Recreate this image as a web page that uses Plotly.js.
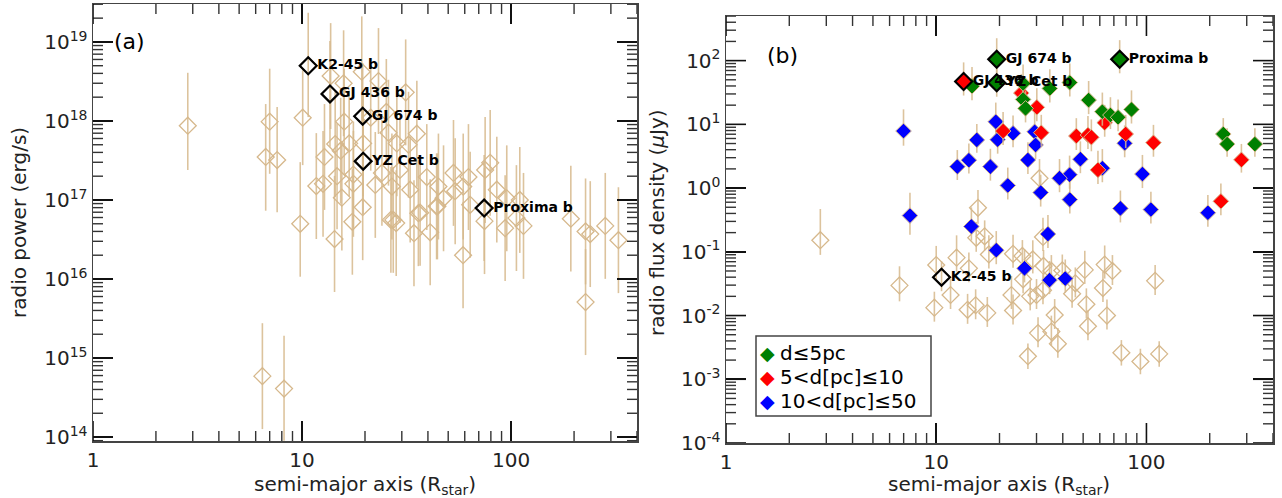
<!DOCTYPE html>
<html><head><meta charset="utf-8">
<script src="https://cdn.plot.ly/plotly-3.0.1.min.js"></script>
<style>html,body{margin:0;padding:0;background:#fff}#chart{width:1282px;height:498px}</style>
</head><body><div id="chart"></div>
<script>
// ---------- Panel (a): radio power vs semi-major axis ----------
const aL = [2.84, 7.0, 6.7, 7.6, 10.07, 9.8, 6.46, 8.2, 14.3, 10.7, 13.6, 19.5, 19.6, 74.3, 23.2, 31.3, 19.3, 13.7, 15.8, 15.9,
  14.4, 15.3, 16.8, 12.8, 19.6, 14.7, 17.6, 11.7, 12.6, 17.6, 15.5, 19.5, 25.9, 35.4, 32.3, 28.4, 24.1, 29.4, 39.5, 53,
  62.5, 79.4, 75.1, 22.4, 26.9, 32.9, 44.9, 54, 85.4, 95.3, 110, 27.3, 36, 44, 47.5, 59, 193, 227, 239, 282,
  326, 227, 58.9, 74.6, 93.6, 114.6, 106, 34.3, 41, 26.6, 28.2, 36.7, 44.4, 63.7, 25.3, 21.3, 17.4];
const pL = [8.7e17, 9.8e17, 3.5e17, 3.2e17, 1.1e18, 5.0e16, 5.9e14, 4.1e14, 3.2e16, 5.0e18, 2.2e18, 1.15e18, 3.1e17, 7.9e16, 3.2e18, 2.3e18, 4.2e18, 3.7e18, 3.0e18, 9.8e17,
  5.1e17, 4.2e17, 5.2e17, 3.5e17, 5.2e17, 2.0e17, 2.1e17, 1.5e17, 1.6e17, 1.6e17, 1.07e17, 8.1e16, 7.1e17, 6.9e17, 5.0e17, 5.2e17, 2.2e17, 2.4e17, 1.95e17, 2.2e17,
  1.95e17, 2.95e17, 2.4e17, 1.55e17, 1.48e17, 1.35e17, 1.48e17, 1.29e17, 1.35e17, 1.05e17, 1.0e17, 5.6e16, 6.8e16, 8.3e16, 1.05e17, 1.48e17, 5.8e16, 4.0e16, 3.7e16, 4.7e16,
  3.1e16, 5.1e15, 2.0e16, 5.4e16, 4.4e16, 4.7e16, 5.9e16, 3.8e16, 3.9e16, 5.6e16, 5.1e16, 6.9e16, 8.3e16, 8.7e16, 1.3e18, 1.1e18, 5.3e16];
// error bar half-lengths in dex (up / down)
const pLerrUp = [0.67, 0.67, 0.67, 0.67, 0.60, 0.78, 0.67, 0.67, 0.80, 0.67, 0.67, 0.67, 0.67, 0.67, 0.67, 0.67, 0.70, 0.67, 0.67, 0.67,
  0.67, 0.67, 0.67, 0.67, 0.67, 0.67, 0.67, 0.67, 0.67, 0.67, 0.67, 0.67, 0.67, 0.67, 0.67, 0.67, 0.67, 0.67, 0.67, 0.67,
  0.67, 0.67, 0.67, 0.67, 0.67, 0.67, 0.67, 0.67, 0.67, 0.67, 0.67, 0.67, 0.67, 0.67, 0.67, 0.67, 0.67, 0.67, 0.67, 0.67,
  0.67, 0.67, 0.67, 0.67, 0.67, 0.67, 0.67, 0.67, 0.67, 0.67, 0.67, 0.67, 0.67, 0.67, 0.67, 0.67, 0.67];
const pLerrDn = [0.56, 0.66, 0.68, 0.66, 0.60, 0.67, 0.67, 0.66, 0.67, 0.65, 0.67, 0.67, 0.67, 0.67, 0.67, 0.67, 0.67, 0.67, 0.67, 0.67,
  0.67, 0.67, 0.67, 0.67, 0.67, 0.67, 0.67, 0.67, 0.67, 0.67, 0.67, 0.67, 0.67, 0.67, 0.67, 0.67, 0.67, 0.67, 0.67, 0.67,
  0.67, 0.67, 0.67, 0.67, 0.67, 0.67, 0.67, 0.67, 0.67, 0.67, 0.67, 0.67, 0.67, 0.67, 0.67, 0.67, 0.67, 0.67, 0.67, 0.67,
  0.67, 0.67, 0.67, 0.67, 0.67, 0.67, 0.67, 0.67, 0.67, 0.67, 0.67, 0.67, 0.67, 0.67, 0.67, 0.67, 0.67];

const hlNames = ['K2-45 b', 'GJ 436 b', 'GJ 674 b', 'YZ Cet b', 'Proxima b'];
const hlA_L = [10.7, 13.6, 19.5, 19.6, 74.3];
const hlP_L = [5.0e18, 2.2e18, 1.15e18, 3.1e17, 7.9e16];

// ---------- Panel (b): radio flux density vs semi-major axis ----------
// d > 50 pc (open)
const aFar = [15.8, 31, 2.81, 15.5, 17, 17.8, 12.5, 10, 14.3, 6.69, 11.7, 9.8, 14.1, 15.4, 17.5, 23.2, 25.7, 28.8, 25.9, 32.2,
  32.4, 35.3, 39.8, 45.9, 44.3, 50.9, 63.3, 68.9, 62.1, 51.8, 64.9, 110, 22.8, 28, 30, 32.2, 23.2, 36.6, 52.7, 30.5,
  35.3, 37.9, 27.3, 76, 93.6, 115, 10.6];
const fFar = [0.49, 1.43, 0.152, 0.166, 0.175, 0.091, 0.081, 0.062, 0.055, 0.0297, 0.021, 0.0133, 0.0123, 0.0145, 0.011, 0.093, 0.086, 0.076, 0.037, 0.171,
  0.060, 0.050, 0.051, 0.032, 0.022, 0.052, 0.063, 0.050, 0.027, 0.015, 0.010, 0.035, 0.021, 0.020, 0.021, 0.025, 0.012, 0.0102, 0.0068, 0.0053,
  0.0056, 0.0036, 0.0023, 0.0026, 0.0019, 0.0025, 0.040];
const fFarErrUp = [0.28, 0.3, 0.49, 0.25, 0.25, 0.3, 0.35, 0.3, 0.25, 0.3, 0.25, 0.25, 0.25, 0.25, 0.25, 0.3, 0.25, 0.3, 0.25, 0.3,
  0.25, 0.25, 0.25, 0.25, 0.25, 0.3, 0.3, 0.25, 0.25, 0.25, 0.25, 0.25, 0.3, 0.25, 0.25, 0.25, 0.25, 0.25, 0.25, 0.25,
  0.25, 0.25, 0.2, 0.2, 0.2, 0.2, 0.25];
const fFarErrDn = [0.25, 0.25, 0.23, 0.22, 0.22, 0.22, 0.22, 0.22, 0.22, 0.25, 0.22, 0.22, 0.22, 0.22, 0.22, 0.22, 0.22, 0.22, 0.22, 0.22,
  0.22, 0.22, 0.22, 0.22, 0.22, 0.22, 0.22, 0.22, 0.22, 0.22, 0.22, 0.22, 0.22, 0.22, 0.22, 0.22, 0.22, 0.22, 0.22, 0.22,
  0.22, 0.22, 0.2, 0.2, 0.2, 0.2, 0.22];
// d <= 5 pc
const aNear = [14.8, 19.4, 19.4, 74.6, 25.9, 25.9, 26.6, 34.7, 43.2, 53.1, 61.7, 67.4, 73.3, 84.9, 232, 242, 328];
const fNear = [39.7, 105, 45, 105, 43.7, 24.6, 17.8, 36.6, 45.3, 24.0, 15.8, 14.0, 12.9, 17.1, 7.05, 4.9, 4.9];
const fNearErrUp = [0.3, 0.33, 0.3, 0.3, 0.3, 0.3, 0.28, 0.3, 0.3, 0.3, 0.3, 0.28, 0.28, 0.3, 0.25, 0.25, 0.25];
const fNearErrDn = [0.22, 0.22, 0.22, 0.22, 0.22, 0.22, 0.22, 0.22, 0.22, 0.22, 0.22, 0.22, 0.22, 0.22, 0.2, 0.2, 0.2];
// 5 < d <= 10 pc
const aMid = [13.5, 25.4, 30.1, 63.3, 79.7, 108, 283, 226, 58.8, 20.8, 31.6, 46.4, 52.7, 54.7];
const fMid = [47, 31, 18.5, 10.6, 7.05, 5.15, 2.77, 0.62, 1.93, 7.85, 7.4, 6.56, 6.8, 6.27];
const fMidErrUp = [0.3, 0.3, 0.3, 0.28, 0.3, 0.28, 0.25, 0.28, 0.3, 0.3, 0.28, 0.28, 0.3, 0.28];
const fMidErrDn = [0.22, 0.22, 0.22, 0.22, 0.22, 0.22, 0.2, 0.22, 0.22, 0.22, 0.22, 0.22, 0.22, 0.22];
// 10 < d <= 50 pc
const aFarish = [6.99, 12.6, 14.3, 15.6, 18.1, 19.2, 19.6, 7.5, 14.7, 196, 105, 75.2, 95.7, 61.7, 48.5, 43.1, 38.6, 31.4, 27.3, 21.9,
  43.2, 23.2, 29.4, 29.7, 78.8, 19.3, 26.3, 34, 34.6, 41.1];
const fFarish = [7.85, 2.17, 2.74, 5.7, 2.17, 11, 5.75, 0.37, 0.25, 0.41, 0.46, 0.48, 1.66, 2.05, 2.84, 1.62, 1.43, 0.85, 2.76, 1.1,
  0.66, 7.24, 7.65, 4.75, 5.05, 0.106, 0.055, 0.19, 0.036, 0.038];
const fFarishErrUp = [0.34, 0.26, 0.26, 0.25, 0.28, 0.3, 0.28, 0.36, 0.3, 0.28, 0.28, 0.28, 0.3, 0.3, 0.28, 0.3, 0.3, 0.28, 0.28, 0.28,
  0.3, 0.28, 0.3, 0.28, 0.28, 0.3, 0.3, 0.3, 0.3, 0.3];
const fFarishErrDn = [0.23, 0.21, 0.21, 0.2, 0.22, 0.22, 0.22, 0.3, 0.22, 0.22, 0.22, 0.22, 0.22, 0.22, 0.22, 0.22, 0.22, 0.22, 0.22, 0.22,
  0.22, 0.22, 0.22, 0.22, 0.22, 0.22, 0.22, 0.22, 0.22, 0.22];

const hlA_R = [10.6, 13.5, 19.4, 19.4, 74.6];
const hlF_R = [0.040, 47, 105, 45, 105];
const hlFill_R = ['rgba(255,255,255,0)', '#ff0000', '#008000', '#008000', '#008000'];

const legendLabels = ['d≤5pc', '5<d[pc]≤10', '10<d[pc]≤50'];
const legendColors = ['#008000', '#ff0000', '#0000ff'];

// tick labels
const xTickVals = [1, 10, 100];
const xTickText = ['1', '10', '100'];
const yTickValsA = [1e14, 1e15, 1e16, 1e17, 1e18, 1e19];
const yTickTextA = ['10<sup>14</sup>', '10<sup>15</sup>', '10<sup>16</sup>', '10<sup>17</sup>', '10<sup>18</sup>', '10<sup>19</sup>'];
const yTickValsB = [1e-4, 1e-3, 1e-2, 1e-1, 1, 10, 100];
const yTickTextB = ['10<sup>-4</sup>', '10<sup>-3</sup>', '10<sup>-2</sup>', '10<sup>-1</sup>', '10<sup>0</sup>', '10<sup>1</sup>', '10<sup>2</sup>'];

// ---------- helpers ----------
const TAN = 'rgb(214,184,140)';
const TANBAR = 'rgba(214,184,140,0.85)';
const FONT = 'DejaVu Sans';
function up(v, d) { return v.map((x, i) => x * (Math.pow(10, d[i]) - 1)); }
function dn(v, d) { return v.map((x, i) => x * (1 - Math.pow(10, -d[i]))); }
function errY(v, du, dd) {
  return {type: 'data', symmetric: false, array: up(v, du), arrayminus: dn(v, dd),
    color: TANBAR, thickness: 1.6, width: 0};
}

const XR = [0, Math.log10(400)];
const YRA = [13.95, 19.48];
const YRB = [-4, 2.70];
const W = 1282, H = 498;
const px = v => v / W, py = v => 1 - v / H;
// plot-area frames in pixels: left, right, top, bottom
const FA = {l: 93, r: 637, t: 4, b: 441};
const FB = {l: 726, r: 1273, t: 16, b: 443};

const traces = [
  {x: aL, y: pL, xaxis: 'x', yaxis: 'y', type: 'scatter', mode: 'markers',
   marker: {symbol: 'diamond-open', size: 13, color: TAN, line: {width: 1.3, color: TAN}},
   error_y: errY(pL, pLerrUp, pLerrDn), showlegend: false},
  {x: hlA_L, y: hlP_L, xaxis: 'x', yaxis: 'y', type: 'scatter', mode: 'markers+text',
   text: hlNames, textposition: 'middle right',
   textfont: {family: FONT, size: 14, color: '#000', weight: 'bold'},
   marker: {symbol: 'diamond-open', size: 13, color: '#000', line: {width: 2.2, color: '#000'}},
   showlegend: false},
  {x: aFar, y: fFar, xaxis: 'x2', yaxis: 'y2', type: 'scatter', mode: 'markers',
   marker: {symbol: 'diamond-open', size: 13, color: TAN, line: {width: 1.3, color: TAN}},
   error_y: errY(fFar, fFarErrUp, fFarErrDn), showlegend: false},
  {x: aFarish, y: fFarish, xaxis: 'x2', yaxis: 'y2', type: 'scatter', mode: 'markers',
   marker: {symbol: 'diamond', size: 12, color: '#0000ff', line: {width: 1, color: TAN}},
   error_y: errY(fFarish, fFarishErrUp, fFarishErrDn), showlegend: false},
  {x: aMid, y: fMid, xaxis: 'x2', yaxis: 'y2', type: 'scatter', mode: 'markers',
   marker: {symbol: 'diamond', size: 12, color: '#ff0000', line: {width: 1, color: TAN}},
   error_y: errY(fMid, fMidErrUp, fMidErrDn), showlegend: false},
  {x: aNear, y: fNear, xaxis: 'x2', yaxis: 'y2', type: 'scatter', mode: 'markers',
   marker: {symbol: 'diamond', size: 12, color: '#008000', line: {width: 1, color: TAN}},
   error_y: errY(fNear, fNearErrUp, fNearErrDn), showlegend: false},
  {x: hlA_R, y: hlF_R, xaxis: 'x2', yaxis: 'y2', type: 'scatter', mode: 'markers+text',
   text: hlNames, textposition: 'middle right',
   textfont: {family: FONT, size: 14, color: '#000', weight: 'bold'},
   marker: {symbol: 'diamond', size: 13, color: hlFill_R, line: {width: 2.2, color: '#000'}},
   showlegend: false}
];

// axis tick marks (inside, mirrored), drawn as line traces on each panel's own log axes
function tickTraces(f, xr, yr, yLo, yHi, xa, ya) {
  const wpx = f.r - f.l, hpx = f.b - f.t;
  const sets = {major: {x: [], y: []}, minor: {x: [], y: []}};
  const xs = (xr[1] - xr[0]) / wpx, ys = (yr[1] - yr[0]) / hpx;
  for (let e = Math.floor(xr[0]); e <= Math.ceil(xr[1]); e++) {
    for (let m = 1; m <= 9; m++) {
      const lv = e + Math.log10(m);
      if (lv < xr[0] - 1e-9 || lv > xr[1] + 1e-9) continue;
      const s = m === 1 ? sets.major : sets.minor, len = m === 1 ? 20 : 10, v = Math.pow(10, lv);
      s.x.push(v, v, null, v, v, null);
      s.y.push(Math.pow(10, yr[0]), Math.pow(10, yr[0] + len * ys), null, Math.pow(10, yr[1]), Math.pow(10, yr[1] - len * ys), null);
    }
  }
  for (let e = yLo; e <= yHi; e++) {
    for (let m = 1; m <= 9; m++) {
      const lv = e + Math.log10(m);
      if (lv < yr[0] - 1e-9 || lv > yr[1] + 1e-9) continue;
      const s = m === 1 ? sets.major : sets.minor, len = m === 1 ? 20 : 10, v = Math.pow(10, lv);
      s.y.push(v, v, null, v, v, null);
      s.x.push(Math.pow(10, xr[0]), Math.pow(10, xr[0] + len * xs), null, Math.pow(10, xr[1]), Math.pow(10, xr[1] - len * xs), null);
    }
  }
  return [
    {x: sets.minor.x, y: sets.minor.y, xaxis: xa, yaxis: ya, type: 'scatter', mode: 'lines', connectgaps: false,
     line: {color: '#333', width: 1.4}, hoverinfo: 'skip', showlegend: false, cliponaxis: false},
    {x: sets.major.x, y: sets.major.y, xaxis: xa, yaxis: ya, type: 'scatter', mode: 'lines', connectgaps: false,
     line: {color: '#111', width: 1.6}, hoverinfo: 'skip', showlegend: false, cliponaxis: false}
  ];
}
traces.push(...tickTraces(FA, XR, YRA, 13, 19, 'x', 'y'));
traces.push(...tickTraces(FB, XR, YRB, -5, 2, 'x2', 'y2'));

function axis(f, isX, anchor, range, vals, text) {
  const domain = isX ? [px(f.l), px(f.r)] : [py(f.b), py(f.t)];
  return {type: 'log', domain: domain, anchor: anchor, range: range, autorange: false,
    tickmode: 'array', tickvals: vals, ticktext: text, showgrid: false, zeroline: false,
    showline: true, linecolor: '#444', linewidth: 1.5, mirror: 'allticks',
    ticks: 'inside', ticklen: 20, tickwidth: 1.6, tickcolor: '#111',
    tickfont: {family: FONT, size: 20, color: '#222'}};
}

const shapes = [{type: 'rect', xref: 'paper', yref: 'paper', x0: px(756), x1: px(931), y0: py(416), y1: py(336),
  line: {color: '#444', width: 1.5}, fillcolor: 'rgba(255,255,255,1)', layer: 'above'}];

const annotations = [
  {xref: 'paper', yref: 'paper', x: px(112), y: py(42), xanchor: 'left', yanchor: 'middle', showarrow: false,
   text: '(a)', font: {family: FONT, size: 22, color: '#000'}},
  {xref: 'paper', yref: 'paper', x: px(765), y: py(56), xanchor: 'left', yanchor: 'middle', showarrow: false,
   text: '(b)', font: {family: FONT, size: 22, color: '#000'}},
  {xref: 'paper', yref: 'paper', x: px(365), y: py(485), xanchor: 'center', yanchor: 'middle', showarrow: false,
   text: 'semi-major axis (R<sub>star</sub>)', font: {family: FONT, size: 20, color: '#222'}},
  {xref: 'paper', yref: 'paper', x: px(999), y: py(485), xanchor: 'center', yanchor: 'middle', showarrow: false,
   text: 'semi-major axis (R<sub>star</sub>)', font: {family: FONT, size: 20, color: '#222'}},
  {xref: 'paper', yref: 'paper', x: px(19), y: py(223), xanchor: 'center', yanchor: 'middle', showarrow: false, textangle: -90,
   text: 'radio power (erg/s)', font: {family: FONT, size: 20, color: '#222'}},
  {xref: 'paper', yref: 'paper', x: px(657), y: py(222), xanchor: 'center', yanchor: 'middle', showarrow: false, textangle: -90,
   text: 'radio flux density (<i>μ</i>Jy)', font: {family: FONT, size: 20, color: '#222'}}
];
legendLabels.forEach((lab, i) => {
  const yc = 353 + i * 24;
  annotations.push({xref: 'paper', yref: 'paper', x: px(767), y: py(yc), xanchor: 'center', yanchor: 'middle',
    showarrow: false, text: '◆', font: {family: FONT, size: 19, color: legendColors[i]}});
  annotations.push({xref: 'paper', yref: 'paper', x: px(778), y: py(yc), xanchor: 'left', yanchor: 'middle',
    showarrow: false, text: lab, font: {family: FONT, size: 20, color: '#000'}});
});

const layout = {
  width: W, height: H, margin: {l: 0, r: 0, t: 0, b: 0},
  font: {family: FONT, size: 20, color: '#222'},
  showlegend: false,
  xaxis: axis(FA, true, 'y', XR, xTickVals, xTickText),
  yaxis: axis(FA, false, 'x', YRA, yTickValsA, yTickTextA),
  xaxis2: axis(FB, true, 'y2', XR, xTickVals, xTickText),
  yaxis2: axis(FB, false, 'x2', YRB, yTickValsB, yTickTextB),
  annotations: annotations,
  shapes: shapes
};

Plotly.newPlot('chart', traces, layout, {staticPlot: true});
</script></body></html>
